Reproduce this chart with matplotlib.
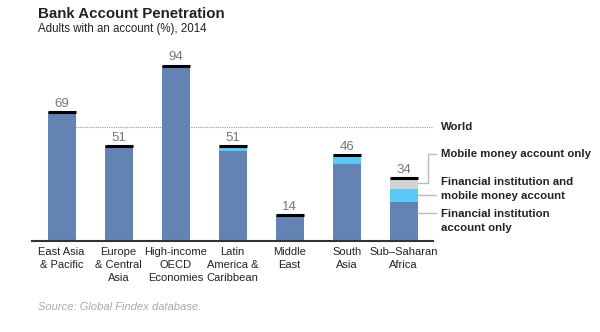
import matplotlib
matplotlib.use("Agg")
from matplotlib import pyplot as plt

regions = ["East Asia\n& Pacific", "Europe\n& Central\nAsia", "High-income\nOECD\nEconomies",
           "Latin\nAmerica &\nCaribbean", "Middle\nEast", "South\nAsia", "Sub\u2013Saharan\nAfrica"]
fin_only = [69, 51, 94, 48.5, 14, 41.5, 21]
fin_mobile = [0, 0, 0, 2.5, 0, 4.5, 7]
mobile_only = [0, 0, 0, 0, 0, 0, 6]
totals = [69, 51, 94, 51, 14, 46, 34]
world = 61

legend_labels = ["Mobile money account only",
                 "Financial institution and\nmobile money account",
                 "Financial institution\naccount only"]

C_FIN = "#6384b3"
C_BOTH = "#5bc8f5"
C_MOB = "#d2d2d2"
TXT = "#222222"


def main():
    plt.rcParams["font.family"] = ["Liberation Sans", "DejaVu Sans"]
    fig = plt.figure(figsize=(6, 3.32), dpi=100)
    ax = fig.add_axes([0.0533, 0.2726, 0.668, 0.5638])
    x = list(range(len(regions)))
    w = 0.49

    ax.hlines(world, 0, 6.57, colors="#999999", linestyles=(0, (1, 1)), lw=0.8, zorder=1)
    ax.text(6.65, world, "World", va="center", ha="left", fontsize=8.2, color=TXT,
            fontweight="bold", clip_on=False)

    ax.bar(x, fin_only, w, color=C_FIN, zorder=2)
    ax.bar(x, fin_mobile, w, bottom=fin_only, color=C_BOTH, zorder=2)
    bottoms = [a + b for a, b in zip(fin_only, fin_mobile)]
    ax.bar(x, mobile_only, w, bottom=bottoms, color=C_MOB, zorder=2)
    ax.hlines(totals, [i - w / 2 for i in x], [i + w / 2 for i in x],
              colors="black", lw=2.2, zorder=3)
    for i, t in zip(x, totals):
        ax.annotate(str(t), (i, t), xytext=(0, 6), textcoords="offset points",
                    ha="center", va="center", fontsize=9.5, color="#777777")

    # leader lines for the Sub-Saharan legend
    right = 6 + w / 2
    ax.plot([right, 6.42, 6.42, 6.57], [31.1, 31.1, 46.7, 46.7], color="#bbbbbb", lw=1,
            clip_on=False)
    ax.plot([right, 6.57], [24.7, 24.7], color="#bbbbbb", lw=1, clip_on=False)
    ax.plot([right, 6.57], [15.4, 15.4], color="#bbbbbb", lw=1, clip_on=False)
    for y, lab in zip([46.7, 28.2, 11], legend_labels):
        ax.text(6.65, y, lab, va="center", ha="left", fontsize=8.2, color=TXT,
                fontweight="bold", linespacing=1.45, clip_on=False)

    ax.set_xlim(-0.52, 6.51)
    ax.set_ylim(0, 100)
    ax.set_xticks(x, regions, fontsize=8, color=TXT, linespacing=1.35)
    ax.tick_params(axis="x", length=0, pad=4)
    ax.set_yticks([])
    for s in ["top", "right", "left"]:
        ax.spines[s].set_visible(False)
    ax.spines["bottom"].set_color("#333333")
    ax.spines["bottom"].set_linewidth(1.5)

    fig.text(0.063, 0.958, "Bank Account Penetration", fontsize=10.8, fontweight="bold",
             color=TXT, va="center")
    fig.text(0.063, 0.912, "Adults with an account (%), 2014", fontsize=8.3, color=TXT,
             va="center")
    fig.text(0.063, 0.076, "Source: Global Findex database.", fontsize=8, color="#aaaaaa",
             style="italic", va="center")

    fig.savefig("out.png", dpi=100)


if __name__ == "__main__":
    main()
